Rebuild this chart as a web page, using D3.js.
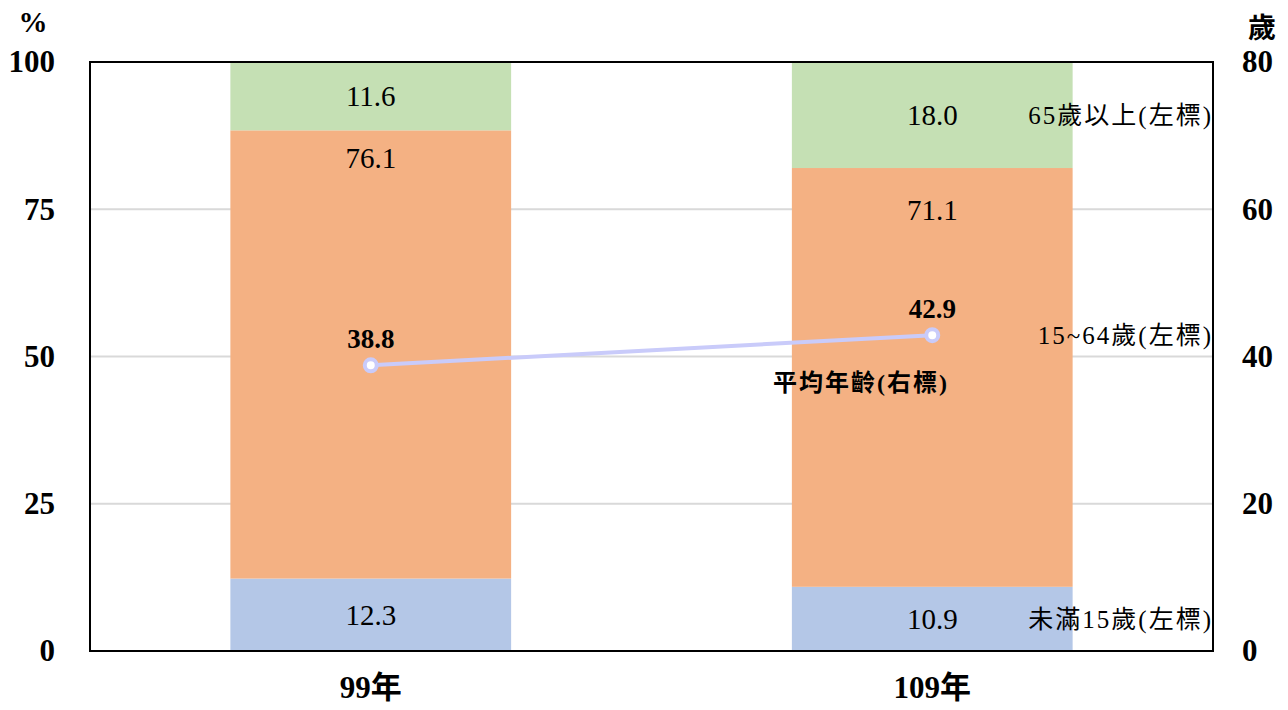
<!DOCTYPE html>
<html>
<head>
<meta charset="utf-8">
<script src="https://cdn.jsdelivr.net/npm/d3@7"></script>
<style>
  body { margin: 0; background: #fff; }
  text { font-family: "Liberation Serif", "Noto Sans CJK TC", serif; }
</style>
</head>
<body>
<div id="chart"></div>
<script>
// Data
const years = ['99年', '109年'];
const under15 = [12.3, 10.9];
const age15to64 = [76.1, 71.1];
const over65 = [11.6, 18.0];
const meanAge = [38.8, 42.9];
const leftTicks = [0, 25, 50, 75, 100];
const rightTicks = [0, 20, 40, 60, 80];
const seriesNames = ['未滿15歲(左標)', '15~64歲(左標)', '65歲以上(左標)'];
const lineName = '平均年齡(右標)';

// Visual
const width = 1288;
const height = 710;
const margin = { top: 62, right: 75, bottom: 59, left: 90 };
const colors = ['#B4C7E7', '#F4B183', '#C5E0B4'];
const lineColor = '#C9CBFA';
// where the middle label sits below the top of its segment (per bar)
const midLabelOffset = [28, 42];

const svg = d3.select('#chart')
  .append('svg')
  .attr('width', width)
  .attr('height', height);

const x = d3.scaleBand()
  .domain(years)
  .range([margin.left, width - margin.right])
  .paddingInner(0.5)
  .paddingOuter(0.25);

const yLeft = d3.scaleLinear()
  .domain([0, 100])
  .range([height - margin.bottom, margin.top]);

const yRight = d3.scaleLinear()
  .domain([0, 80])
  .range([height - margin.bottom, margin.top]);

// grid
svg.append('g')
  .selectAll('line')
  .data(leftTicks.filter(d => d > 0 && d < 100))
  .enter()
  .append('line')
  .attr('x1', margin.left)
  .attr('x2', width - margin.right)
  .attr('y1', d => yLeft(d))
  .attr('y2', d => yLeft(d))
  .attr('stroke', '#D9D9D9')
  .attr('stroke-width', 2);

// stacked bars
const rows = years.map((year, i) => ({ year, values: [under15[i], age15to64[i], over65[i]] }));
const stack = d3.stack().keys([0, 1, 2]).value((d, k) => d.values[k]);
const layers = stack(rows);

layers.forEach((layer, k) => {
  svg.append('g')
    .selectAll('rect')
    .data(layer)
    .enter()
    .append('rect')
    .attr('x', d => x(d.data.year))
    .attr('y', d => yLeft(d[1]))
    .attr('width', x.bandwidth())
    .attr('height', d => yLeft(d[0]) - yLeft(d[1]))
    .attr('fill', colors[k]);

  svg.append('g')
    .selectAll('text')
    .data(layer)
    .enter()
    .append('text')
    .text(d => d.data.values[k].toFixed(1))
    .attr('x', d => x(d.data.year) + x.bandwidth() / 2)
    .attr('y', (d, i) => k === 1
      ? yLeft(d[1]) + midLabelOffset[i]
      : (yLeft(d[0]) + yLeft(d[1])) / 2)
    .attr('dy', '.35em')
    .attr('text-anchor', 'middle')
    .attr('fill', '#000')
    .style('font-size', '29px');
});

// frame
svg.append('rect')
  .attr('x', margin.left)
  .attr('y', margin.top)
  .attr('width', width - margin.left - margin.right)
  .attr('height', height - margin.top - margin.bottom)
  .attr('fill', 'none')
  .attr('stroke', '#000')
  .attr('stroke-width', 2);

// axes
const leftAxis = svg.append('g')
  .attr('transform', `translate(${margin.left},0)`)
  .call(d3.axisLeft(yLeft).tickValues(leftTicks).tickSize(0).tickPadding(35));
const rightAxis = svg.append('g')
  .attr('transform', `translate(${width - margin.right},0)`)
  .call(d3.axisRight(yRight).tickValues(rightTicks).tickSize(0).tickPadding(29));
const bottomAxis = svg.append('g')
  .attr('transform', `translate(0,${height - margin.bottom})`)
  .call(d3.axisBottom(x).tickSize(0).tickPadding(25));

[leftAxis, rightAxis, bottomAxis].forEach(a => {
  a.select('.domain').remove();
  a.selectAll('text')
    .style('font-family', '"Liberation Serif", "Noto Sans CJK TC", serif')
    .style('font-size', '31px')
    .style('font-weight', 'bold')
    .attr('fill', '#000');
});

svg.append('text')
  .text('%')
  .attr('x', 33)
  .attr('y', 22)
  .attr('dy', '.35em')
  .attr('text-anchor', 'middle')
  .style('font-size', '29px')
  .style('font-weight', 'bold');

svg.append('text')
  .text('歲')
  .attr('x', 1262)
  .attr('y', 28)
  .attr('dy', '.35em')
  .attr('text-anchor', 'middle')
  .style('font-size', '28px')
  .style('font-weight', 'bold');

// mean age line
const line = d3.line()
  .x((d, i) => x(years[i]) + x.bandwidth() / 2)
  .y(d => yRight(d));

svg.append('path')
  .datum(meanAge)
  .attr('d', line)
  .attr('fill', 'none')
  .attr('stroke', lineColor)
  .attr('stroke-width', 4);

svg.append('g')
  .selectAll('circle')
  .data(meanAge)
  .enter()
  .append('circle')
  .attr('cx', (d, i) => x(years[i]) + x.bandwidth() / 2)
  .attr('cy', d => yRight(d))
  .attr('r', 6)
  .attr('fill', '#fff')
  .attr('stroke', lineColor)
  .attr('stroke-width', 4);

svg.append('g')
  .selectAll('text')
  .data(meanAge)
  .enter()
  .append('text')
  .text(d => d.toFixed(1))
  .attr('x', (d, i) => x(years[i]) + x.bandwidth() / 2)
  .attr('y', d => yRight(d) - 27)
  .attr('dy', '.35em')
  .attr('text-anchor', 'middle')
  .style('font-size', '27px')
  .style('font-weight', 'bold');

svg.append('text')
  .text(lineName)
  .attr('x', 861)
  .attr('y', 383)
  .attr('dy', '.35em')
  .attr('text-anchor', 'middle')
  .style('font-size', '24px')
  .style('font-weight', 'bold')
  .style('letter-spacing', '2px');

// series names beside the last bar
const last = layers.map(layer => layer[layer.length - 1]);
const nameY = [
  (yLeft(last[0][0]) + yLeft(last[0][1])) / 2,
  yRight(meanAge[meanAge.length - 1]),
  (yLeft(last[2][0]) + yLeft(last[2][1])) / 2
];
svg.append('g')
  .selectAll('text')
  .data(seriesNames)
  .enter()
  .append('text')
  .text(d => d)
  .attr('x', width - margin.right)
  .attr('y', (d, i) => nameY[i])
  .attr('dy', '.35em')
  .attr('text-anchor', 'end')
  .style('font-size', '25px')
  .style('letter-spacing', '2px');
</script>
</body>
</html>
